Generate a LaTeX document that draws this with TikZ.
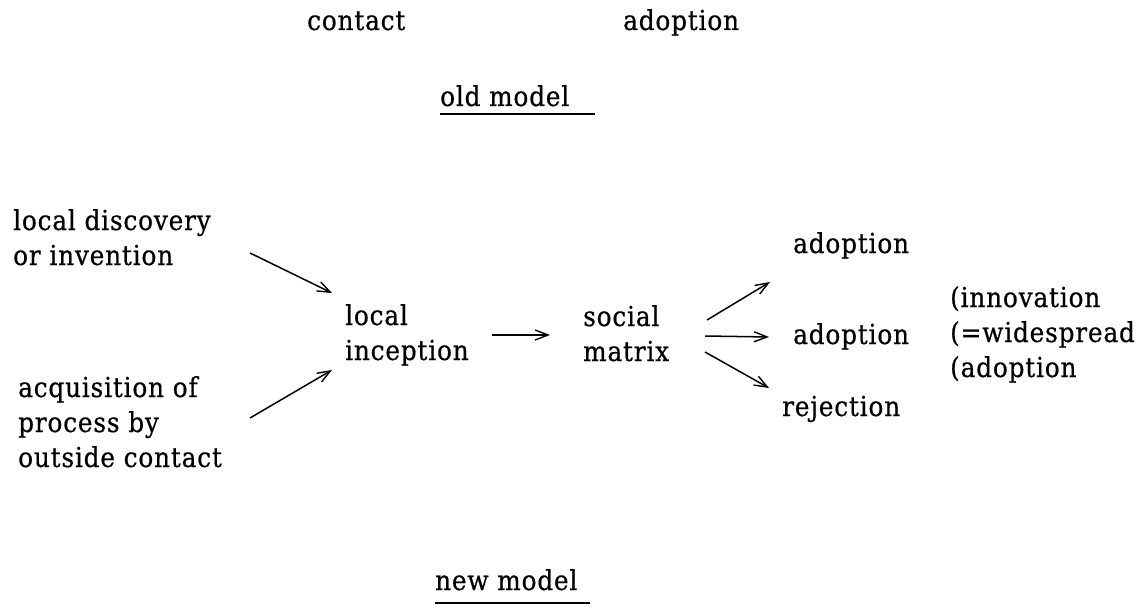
\documentclass[tikz,border=0pt]{standalone}
\usepackage{fontspec}
\setmainfont{DejaVu Serif}[LetterSpace=3,FakeStretch=0.9,FakeBold=0.6]
\usetikzlibrary{arrows.meta}
\begin{document}
\begin{tikzpicture}[x=1pt,y=-1pt,
  lbl/.style={anchor=base west,inner sep=0pt,font=\fontsize{27.5}{35}\selectfont},
  arr/.style={line width=1.5pt,-{Straight Barb[length=13pt,width=10pt,line width=1.4pt]}},
  uline/.style={line width=2pt}]
\useasboundingbox (0,0) rectangle (1142,607);

% old model
\node[lbl] (contact) at (307,30) {contact};
\node[lbl] (adopt0) at (623,30) {adoption};
\node[lbl] (oldm) at (440,106) {old model};
\draw[uline] (440,114) -- (595,114);

% new model: sources
\node[lbl] (disc) at (13,230)
  {\begin{tabular}[t]{@{}l@{}}local discovery\\or invention\end{tabular}};
\node[lbl] (acq) at (18,397)
  {\begin{tabular}[t]{@{}l@{}}acquisition of\\process by\\outside contact\end{tabular}};

% inception and matrix
\node[lbl] (incep) at (345,325)
  {\begin{tabular}[t]{@{}l@{}}local\\inception\end{tabular}};
\node[lbl] (matrix) at (583,326)
  {\begin{tabular}[t]{@{}l@{}}social\\matrix\end{tabular}};

% outcomes
\node[lbl] (adopt1) at (793,253) {adoption};
\node[lbl] (adopt2) at (793,344) {adoption};
\node[lbl] (reject) at (782,416) {rejection};
\node[lbl] (innov) at (950,307)
  {\begin{tabular}[t]{@{}l@{}}(innovation\\(=widespread\\(adoption\end{tabular}};

\node[lbl] (newm) at (435,590) {new model};
\draw[uline] (435,603) -- (590,603);

% arrow ends
\coordinate (discOut) at (250,253);
\coordinate (incepInA) at (332,293);
\coordinate (acqOut) at (250,418);
\coordinate (incepInB) at (332,370);
\coordinate (incepOut) at (492,335);
\coordinate (matrixIn) at (550,335);
\coordinate (matrixOutA) at (707,320);
\coordinate (adoptInA) at (770,282);
\coordinate (matrixOutB) at (705,336);
\coordinate (adoptInB) at (769,337);
\coordinate (matrixOutC) at (705,352);
\coordinate (rejectIn) at (769,388);

\draw[arr] (discOut) -- (incepInA);
\draw[arr] (acqOut) -- (incepInB);
\draw[arr] (incepOut) -- (matrixIn);
\draw[arr] (matrixOutA) -- (adoptInA);
\draw[arr] (matrixOutB) -- (adoptInB);
\draw[arr] (matrixOutC) -- (rejectIn);
\end{tikzpicture}
\end{document}
